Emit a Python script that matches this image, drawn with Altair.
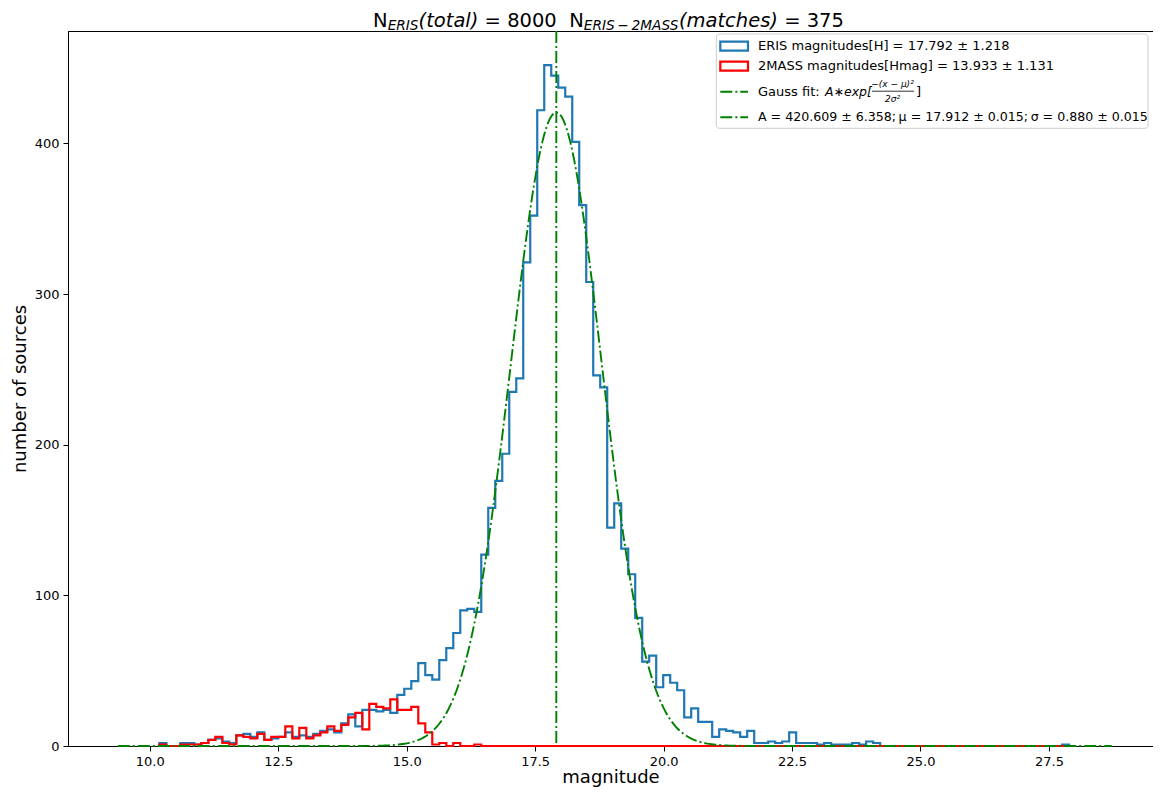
import altair as alt
import pandas as pd
import numpy as np

# ---------------- data ----------------
bin_start = 10.186
bin_width = 0.1362

eris_counts = [
    2, 0, 0, 2, 2, 1, 2, 4, 5, 3, 2, 7, 8, 6, 9, 4, 5, 6, 9, 6,
    7, 6, 8, 10, 11, 9, 15, 21, 13, 24, 24, 23, 24, 22,
    34, 38, 43, 55, 47, 44, 57, 65, 75, 90, 91, 89,
    127, 158, 176, 194, 235, 244, 321, 352, 422, 452, 445, 437, 431, 401, 359, 308, 246, 238,
    145, 161, 131, 114, 85, 56, 60, 39, 47, 42, 37, 19, 25, 16, 16, 6,
    11, 10, 9, 6, 10, 2, 2, 3, 2, 3, 9, 2, 2, 2, 1, 2, 1, 1, 1, 2, 1, 3, 2,
    0, 0, 0, 0, 0, 0, 0, 0, 0, 0, 0, 0, 0, 0, 0, 0, 0, 0, 0, 0, 0, 0, 0, 0, 0, 0,
    1,
]
tmass_counts = [
    1, 0, 0, 1, 1, 1, 2, 4, 6, 2, 1, 7, 6, 5, 8, 4, 6, 6, 13, 5,
    12, 5, 7, 9, 13, 10, 14, 19, 22, 11, 28, 26, 25, 31,
    24, 24, 26, 15, 9, 1, 2, 0, 2, 0, 0, 1,
] + [0] * 84

gauss_A = 420.609
gauss_mu = 17.912
gauss_sigma = 0.880
gauss_range = [9.378, 28.72]

x_ticks = [10.0, 12.5, 15.0, 17.5, 20.0, 22.5, 25.0, 27.5]
y_ticks = [0, 100, 200, 300, 400]

legend_eris = "ERIS magnitudes[H] = 17.792 ± 1.218"
legend_2mass = "2MASS magnitudes[Hmag] = 13.933 ± 1.131"
legend_fit_params = "A = 420.609 ± 6.358;\u2009μ = 17.912 ± 0.015;\u2009σ = 0.880 ± 0.015"

BLUE = "#1f77b4"
RED = "#ff0000"
GREEN = "#008000"
FONT = "DejaVu Sans"
DASHDOT = [12, 3, 2, 3]

PLOT_W = 1085
PLOT_H = 715
PAD_TOP = 23
PX_PER_UNIT = 51.38
X_MIN = 8.408

# ---------------- helpers ----------------
xscale = alt.Scale(domain=[X_MIN, X_MIN + PLOT_W / PX_PER_UNIT], nice=False, zero=False)
yscale = alt.Scale(domain=[0, 474.6], nice=False, zero=False)
xaxis = alt.Axis(values=x_ticks, format=".1f", grid=False, labelOverlap=False)
yaxis = alt.Axis(values=y_ticks, format="d", grid=False, labelOverlap=False)


def X(field):
    return alt.X(field, type="quantitative", scale=xscale, axis=xaxis, title="magnitude")


def Y(field):
    return alt.Y(field, type="quantitative", scale=yscale, axis=yaxis, title="number of sources")


def step_frame(counts):
    edges = [bin_start + i * bin_width for i in range(len(counts) + 1)]
    xs, ys = [edges[0]], [0]
    for i, c in enumerate(counts):
        xs += [edges[i], edges[i + 1]]
        ys += [c, c]
    xs.append(edges[-1])
    ys.append(0)
    return pd.DataFrame({"x": xs, "y": ys, "o": list(range(len(xs)))})


one = pd.DataFrame({"d": [0]})

# ---------------- data layers ----------------
eris_layer = alt.Chart(step_frame(eris_counts)).mark_line(
    color=BLUE, strokeWidth=2.2, strokeJoin="miter"
).encode(x=X("x"), y=Y("y"), order="o:Q")

tmass_layer = alt.Chart(step_frame(tmass_counts)).mark_line(
    color=RED, strokeWidth=2.2, strokeJoin="miter"
).encode(x=X("x"), y=Y("y"), order="o:Q")

gx = np.linspace(gauss_range[0], gauss_range[1], 500)
gy = gauss_A * np.exp(-((gx - gauss_mu) ** 2) / (2 * gauss_sigma ** 2))
gauss_layer = alt.Chart(pd.DataFrame({"x": gx, "y": gy})).mark_line(
    color=GREEN, strokeWidth=1.9, strokeDash=DASHDOT
).encode(x=X("x"), y=Y("y"))

vline_layer = alt.Chart(pd.DataFrame({"x": [gauss_mu]})).mark_rule(
    color=GREEN, strokeWidth=1.9, strokeDash=DASHDOT
).encode(x=X("x"))

layers = [eris_layer, tmass_layer, gauss_layer, vline_layer]

# ---------------- legend (pixel placed) ----------------
LY = -3.0  # vertical shift of legend (plot coordinates)
LX = -7.0  # horizontal shift of legend
layers.append(alt.Chart(one).mark_rect(
    fill="white", fillOpacity=0.8, stroke="#cccccc", strokeWidth=1, cornerRadius=3
).encode(x=alt.value(655.3 + LX), x2=alt.value(1087 + LX),
         y=alt.value(6 + LY), y2=alt.value(100.3 + LY)))

for col, y0 in [(BLUE, 13.7), (RED, 33.7)]:
    layers.append(alt.Chart(one).mark_rect(
        fillOpacity=0, stroke=col, strokeWidth=2.2
    ).encode(x=alt.value(659.3 + LX), x2=alt.value(687 + LX),
             y=alt.value(y0 + LY), y2=alt.value(y0 + 9 + LY)))

for y0 in [63.7, 89.3]:
    layers.append(alt.Chart(one).mark_rule(
        color=GREEN, strokeWidth=1.9, strokeDash=DASHDOT
    ).encode(x=alt.value(659.3 + LX), x2=alt.value(687 + LX), y=alt.value(y0 + LY)))


def txt(s, x, y, size=13, style="normal", align="left", baseline="middle"):
    return alt.Chart(one).mark_text(
        text=s, font=FONT, fontSize=size, fontStyle=style, align=align,
        baseline=baseline, color="black"
    ).encode(x=alt.value(x), y=alt.value(y))


layers.append(txt(legend_eris, 697 + LX, 17.7 + LY))
layers.append(txt(legend_2mass, 697 + LX, 38 + LY))
layers.append(txt("Gauss fit:", 697 + LX, 63.7 + LY))
layers.append(txt("A∗exp[", 764 + LX, 63.7 + LY, size=12.5, style="italic"))
layers.append(txt("−(x − μ)²", 831.5 + LX, 55.5 + LY, size=9, style="italic", align="center"))
layers.append(alt.Chart(one).mark_rule(color="black", strokeWidth=0.8).encode(
    x=alt.value(811 + LX), x2=alt.value(853 + LX), y=alt.value(63.2 + LY)))
layers.append(txt("2σ²", 831.5 + LX, 71 + LY, size=9, style="italic", align="center"))
layers.append(txt("]", 855 + LX, 63.7 + LY))
layers.append(txt(legend_fit_params, 697 + LX, 89.3 + LY, size=12.6))

# ---------------- title (pixel placed, with subscripts) ----------------
W = {'N': 1532, 'E': 1294, 'R': 1423, 'I': 604, 'S': 1300, '(': 799, ')': 799,
     't': 803, 'o': 1253, 'a': 1255, 'l': 569, 'm': 1995, 'c': 1126, 'h': 1298,
     'e': 1260, 's': 1067, 'M': 1767, 'A': 1401, '−': 1716, '=': 1716,
     '\u00a0': 651, '\u2009': 410, ' ': 651}


def tw(s, size):
    return sum(W.get(ch, 1303) for ch in s) / 2048.0 * size


TS = 19.5         # title font size
SS = 13.7         # subscript font size
DROP = 3.0        # subscript baseline drop
SP = tw(" ", TS)
# (text, font size, style, baseline drop, leading gap in px)
title_pieces = [
    ("N", TS, "normal", 0, 0),
    ("ERIS", SS, "italic", DROP, 0),
    ("(total)", TS, "italic", 0, 0),
    ("= 8000", TS, "normal", 0, SP),
    ("N", TS, "normal", 0, 2 * SP),
    ("ERIS\u2009−\u20092MASS", SS, "italic", DROP, 0),
    ("(matches)", TS, "italic", 0, 0),
    ("= 375", TS, "normal", 0, SP),
]
total_w = sum(tw(p[0], p[1]) + p[4] for p in title_pieces)
cx = 540.5
xpos = cx - total_w / 2
base_y = -4.0   # plot coordinates (page y ~ 27)
for s, size, style, dy, lead in title_pieces:
    xpos += lead
    layers.append(txt(s, xpos, base_y + dy, size=size, style=style, baseline="alphabetic"))
    xpos += tw(s, size)

chart = alt.layer(*layers).properties(
    width=PLOT_W,
    height=PLOT_H,
    padding={"left": 60, "top": PAD_TOP, "right": 0, "bottom": 42},
    autosize=alt.AutoSizeParams(type="none"),
).configure_view(
    stroke="black", strokeWidth=1
).configure_axis(
    labelFont=FONT, labelFontSize=13, labelColor="black", labelPadding=4,
    tickColor="black", tickSize=5, tickWidth=1,
    domainColor="black", domainWidth=1,
    titleFont=FONT, titleFontSize=18, titleFontWeight="normal", titleColor="black",
    grid=False,
).configure_axisX(titlePadding=0).configure_axisY(titlePadding=5)

chart.save("out.html", embed_options={"renderer": "svg", "actions": False})
